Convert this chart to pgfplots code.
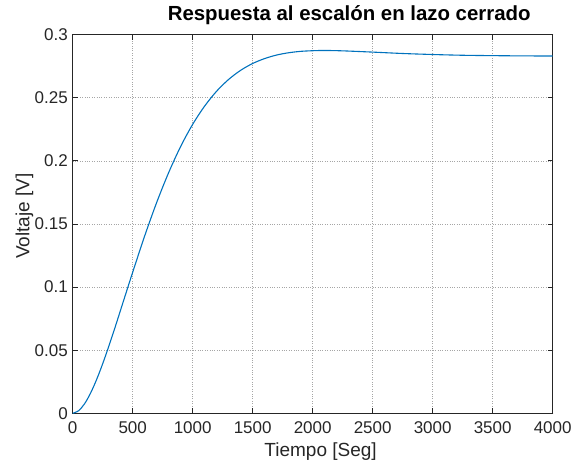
\documentclass[border=0pt]{standalone}
\usepackage{fontspec}
\setmainfont{Liberation Sans}
\usepackage{pgfplots}
\pgfplotsset{compat=1.18}
\definecolor{mblue}{RGB}{0,114,189}
\definecolor{axgray}{RGB}{38,38,38}
\begin{document}
\begin{tikzpicture}
\begin{axis}[
    name=ax,
    scale only axis,
    width=480pt, height=378.6pt,
    xmin=0, xmax=4000,
    ymin=0, ymax=0.3,
    xtick={0,500,1000,1500,2000,2500,3000,3500,4000},
    xticklabels={0,500,1000,1500,2000,2500,3000,3500,4000},
    ytick={0,0.05,0.1,0.15,0.2,0.25,0.3},
    yticklabels={0,0.05,0.1,0.15,0.2,0.25,0.3},
    tick align=inside,
    major tick length=5pt,
    tick style={axgray, line width=0.9pt},
    axis line style={axgray, line width=1.3pt},
    grid=major,
    grid style={dotted, gray!70, line width=0.7pt},
    /pgf/number format/assume math mode=true,
    tick label style={font=\fontsize{17}{17}\selectfont, text=axgray, inner sep=0pt},
    yticklabel style={anchor=east, xshift=-4.7pt},
    xticklabel style={anchor=base, yshift=-20pt},
    xlabel={Tiempo [Seg]},
    ylabel={Voltaje [V]},
    label style={font=\fontsize{19}{19}\selectfont, text=axgray},
    xlabel style={at={(axis description cs:0.5165,-0.1154)}, anchor=base},
    ylabel style={at={(axis description cs:-0.0904,0.521)}, anchor=base},
    title={Respuesta al escalón en lazo cerrado},
    title style={font=\bfseries\fontsize{20.4}{20.4}\selectfont, at={(axis description cs:0.576,1.021)}, anchor=base},
]
\addplot[mblue, line width=1.1pt, smooth] coordinates {
  (0,0) (50,0.0021) (100,0.0077) (150,0.0162) (200,0.0269) (250,0.0393)
  (300,0.0529) (350,0.0672) (400,0.0821) (450,0.0970) (500,0.1118)
  (600,0.1406) (700,0.1671) (800,0.1908) (900,0.2115) (1000,0.2290)
  (1100,0.2435) (1200,0.2553) (1300,0.2646) (1400,0.2718) (1500,0.2772)
  (1600,0.2811) (1700,0.2839) (1800,0.2857) (1900,0.2868) (2000,0.2873)
  (2100,0.2875) (2250,0.2872) (2500,0.2862) (2750,0.2851) (3000,0.2843)
  (3250,0.2837) (3500,0.2834) (3750,0.2832) (4000,0.2831)
};
\end{axis}
\pgfresetboundingbox
\path ([shift={(-72.7pt,-48.7pt)}]ax.south west) rectangle ([shift={(25.3pt,34.7pt)}]ax.north east);
\end{tikzpicture}
\end{document}
